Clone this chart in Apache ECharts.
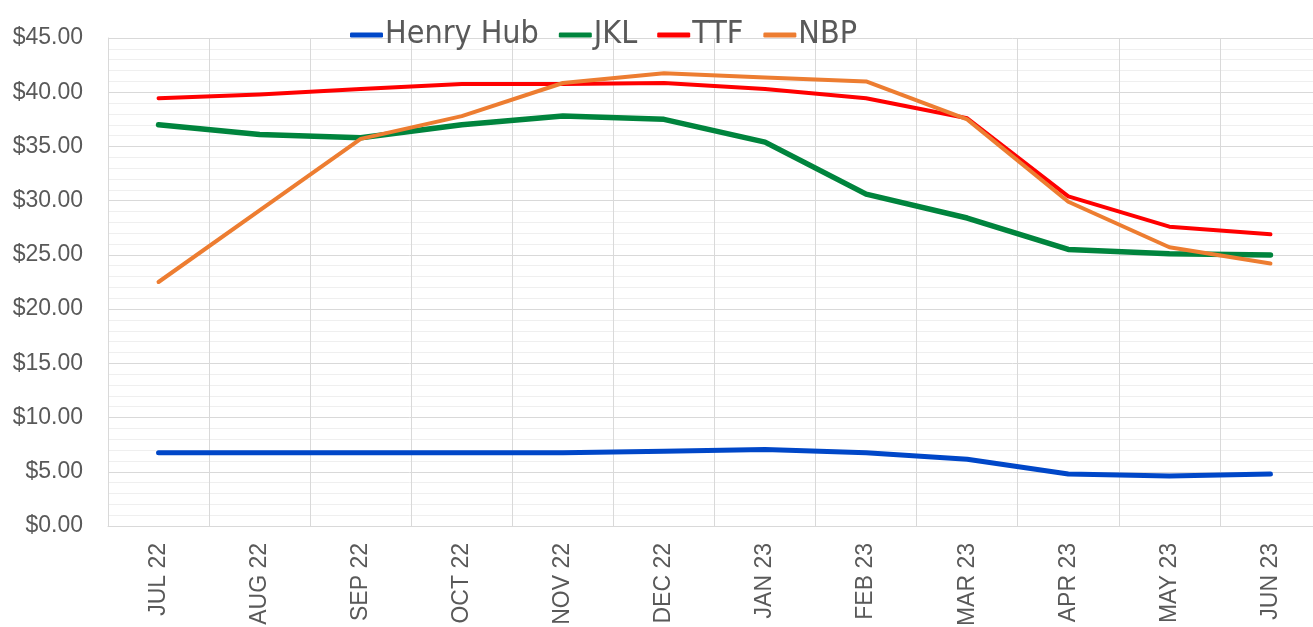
<!DOCTYPE html>
<html>
<head>
<meta charset="utf-8">
<script src="https://cdn.jsdelivr.net/npm/echarts@6/dist/echarts.min.js"></script>
<style>html,body{margin:0;padding:0;background:#fff;}#c{width:1313px;height:627px;}</style>
</head>
<body>
<div id="c"></div>
<script>
const categories = ['JUL 22','AUG 22','SEP 22','OCT 22','NOV 22','DEC 22','JAN 23','FEB 23','MAR 23','APR 23','MAY 23','JUN 23'];
const henryHub = [6.75, 6.75, 6.75, 6.75, 6.75, 6.9, 7.05, 6.75, 6.15, 4.8, 4.6, 4.8];
const jkl = [37.0, 36.1, 35.8, 37.0, 37.8, 37.5, 35.4, 30.6, 28.4, 25.5, 25.1, 25.0];
const ttf = [39.45, 39.8, 40.3, 40.75, 40.75, 40.85, 40.3, 39.45, 37.6, 30.4, 27.6, 26.9];
const nbp = [22.5, 29.1, 35.7, 37.8, 40.85, 41.75, 41.35, 41.0, 37.5, 29.9, 25.7, 24.2];
const yTicks = {min: 0, max: 45, interval: 5};

const chart = echarts.init(document.getElementById('c'), null, {renderer: 'canvas'});
const font = 'Arial, "Liberation Sans", sans-serif';
function mk(name, data, color, width) {
  return {name, type: 'line', data, symbol: 'none', smooth: false,
    lineStyle: {color, width, cap: 'round', join: 'round'}, itemStyle: {color}};
}
chart.setOption({
  animation: false,
  backgroundColor: '#ffffff',
  legend: {
    top: 14, left: 345, itemGap: 20, itemWidth: 33, itemHeight: 5,
    icon: 'roundRect',
    textStyle: {fontFamily: '"Liberation Sans Narrow", "DejaVu Sans Condensed", Arial, sans-serif', fontSize: 32, color: '#595959', padding: [0,0,0,-3]},
    data: ['Henry Hub','JKL','TTF','NBP']
  },
  grid: {left: 108, top: 38, bottom: 101, right: -8, containLabel: false, outerBoundsMode: 'none'},
  xAxis: {
    type: 'category', data: categories, boundaryGap: true,
    axisLine: {show: true, lineStyle: {color: '#d9d9d9', width: 1}},
    axisTick: {show: false},
    axisLabel: {rotate: 90, interval: 0, margin: 17, fontFamily: font, fontSize: 23, color: '#595959'},
    splitLine: {show: true, interval: 0, lineStyle: {color: '#d9d9d9', width: 1}}
  },
  yAxis: {
    type: 'value', min: yTicks.min, max: yTicks.max, interval: yTicks.interval,
    axisLine: {show: true, lineStyle: {color: '#d9d9d9', width: 1}},
    axisTick: {show: false},
    axisLabel: {margin: 25, fontFamily: font, fontSize: 23, color: '#595959', formatter: v => '$' + v.toFixed(2)},
    splitLine: {show: true, lineStyle: {color: '#d9d9d9', width: 1}},
    minorTick: {show: false, splitNumber: 5},
    minorSplitLine: {show: true, lineStyle: {color: '#efefef', width: 1}}
  },
  series: [
    mk('Henry Hub', henryHub, '#0047c8', 5),
    mk('JKL', jkl, '#00843d', 5.5),
    mk('TTF', ttf, '#ff0000', 4),
    mk('NBP', nbp, '#ed7d31', 4)
  ]
});
</script>
</body>
</html>
